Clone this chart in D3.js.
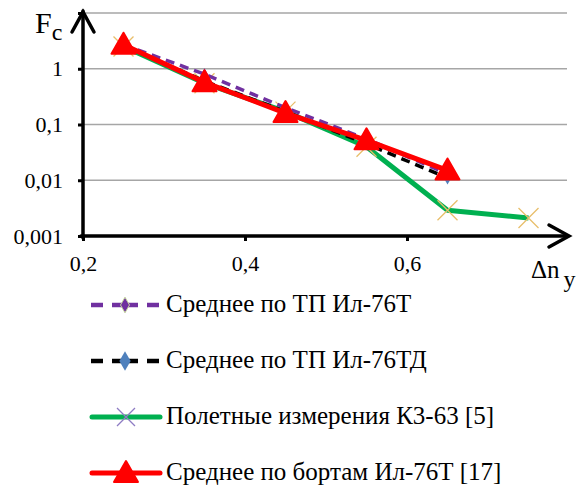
<!DOCTYPE html>
<html>
<head>
<meta charset="utf-8">
<script src="https://cdn.jsdelivr.net/npm/d3@7"></script>
</head>
<body style="margin:0; background:#fff">
<div id="chart"></div>
<script>
// data
var dnY = [0.25, 0.35, 0.45, 0.55, 0.65];
var dnYFlight = [0.25, 0.35, 0.45, 0.55, 0.65, 0.75];
var tp76T = [2.7, 0.8, 0.2, 0.055, 0.013];
var tp76TD = [2.6, 0.6, 0.17, 0.045, 0.011];
var flightK363 = [2.5, 0.55, 0.17, 0.04, 0.0029, 0.0021];
var boards76T = [2.7, 0.57, 0.16, 0.052, 0.015];
var yTicks = [0.001, 0.01, 0.1, 1, 10];
var yLabels = ["0,001", "0,01", "0,1", "1", ""];
var xTicks = [0.2, 0.4, 0.6];
var legendNames = [
    "Среднее по ТП Ил-76Т",
    "Среднее по ТП Ил-76ТД",
    "Полетные измерения К3-63 [5]",
    "Среднее по бортам Ил-76Т [17]"
];

var width = 581, height = 486;
var serif = "'Liberation Serif', serif";

var svg = d3.select("#chart")
    .append("svg")
    .attr("width", width)
    .attr("height", height);

var x = d3.scaleLinear().domain([0.2, 0.8]).range([83, 569]);
var y = d3.scaleLog().domain([0.001, 10]).range([236, 13]);

// gridlines
svg.append("g")
    .selectAll("line")
    .data(yTicks.slice(1))
    .enter().append("line")
    .attr("x1", x(0.2))
    .attr("x2", x(0.8) - 2)
    .attr("y1", function(d) { return y(d); })
    .attr("y2", function(d) { return y(d); })
    .attr("stroke", "#a6a6a6")
    .attr("stroke-width", 1.3);

// y axis
var yAxis = d3.axisLeft(y)
    .tickValues(yTicks)
    .tickFormat(function(d, i) { return yLabels[i]; })
    .tickSize(5)
    .tickPadding(15);

var gy = svg.append("g")
    .attr("transform", "translate(" + x(0.2) + ",0)")
    .call(yAxis);
gy.select(".domain").remove();
gy.selectAll(".tick line").attr("stroke", "#000").attr("stroke-width", 3);
gy.selectAll(".tick text")
    .style("font-family", serif)
    .style("font-size", "22px")
    .attr("fill", "#000");

// x axis
var xAxis = d3.axisBottom(x)
    .tickValues(xTicks)
    .tickFormat(function(d) { return d3.format(".1f")(d).replace(".", ","); })
    .tickSize(5)
    .tickPadding(14);

var gx = svg.append("g")
    .attr("transform", "translate(0," + y(0.001) + ")")
    .call(xAxis);
gx.select(".domain").remove();
gx.selectAll(".tick line").attr("stroke", "#000").attr("stroke-width", 3);
gx.selectAll(".tick text")
    .style("font-family", serif)
    .style("font-size", "22px")
    .attr("fill", "#000");

// axis lines with open arrowheads
var axes = svg.append("g")
    .attr("fill", "none")
    .attr("stroke", "#000")
    .attr("stroke-width", 3.5)
    .attr("stroke-linecap", "round")
    .attr("stroke-linejoin", "miter");

axes.append("line")
    .attr("x1", x(0.2)).attr("x2", x(0.2))
    .attr("y1", y(0.001) + 2).attr("y2", y(10) - 2);
axes.append("line")
    .attr("x1", x(0.2) - 2).attr("x2", x(0.8) - 1)
    .attr("y1", y(0.001)).attr("y2", y(0.001));
axes.append("path")
    .attr("d", d3.line()([[x(0.2) - 11, y(10) + 19], [x(0.2), y(10) - 1], [x(0.2) + 11, y(10) + 19]]));
axes.append("path")
    .attr("d", d3.line()([[x(0.8) - 20, y(0.001) - 11], [x(0.8), y(0.001)], [x(0.8) - 20, y(0.001) + 11]]));

// axis titles
var fc = svg.append("text")
    .attr("x", 35)
    .attr("y", 33)
    .style("font-family", serif)
    .style("font-size", "30px");
fc.append("tspan").text("F");
fc.append("tspan").attr("dy", 7).style("font-size", "24px").text("c");

var dn = svg.append("text")
    .attr("x", 531)
    .attr("y", 278)
    .style("font-family", serif)
    .style("font-size", "25px");
dn.append("tspan").text("Δn");
dn.append("tspan").attr("dx", 4).attr("dy", 9).style("font-size", "24px").text("y");

// series
var line = d3.line()
    .x(function(d) { return x(d[0]); })
    .y(function(d) { return y(d[1]); });

var xMark = function(g, size, color) {
    g.append("path")
        .attr("d", "M" + (-size) + "," + (-size) + "L" + size + "," + size +
                   "M" + (-size) + "," + size + "L" + size + "," + (-size))
        .attr("stroke", color)
        .attr("stroke-width", 1.3)
        .attr("fill", "none");
};

var triangle = "M0,-12L12,9L-12,9Z";

var plot = svg.append("g");

// green: flight measurements
var greenPts = d3.zip(dnYFlight, flightK363);
plot.append("path")
    .attr("d", line(greenPts))
    .attr("fill", "none")
    .attr("stroke", "#00b050")
    .attr("stroke-width", 5)
    .attr("stroke-linejoin", "round");
greenPts.forEach(function(p) {
    var g = plot.append("g").attr("transform", "translate(" + x(p[0]) + "," + y(p[1]) + ")");
    xMark(g, 10, "#e8be6a");
});

// purple dashed
var purplePts = d3.zip(dnY, tp76T);
plot.append("path")
    .attr("d", line(purplePts))
    .attr("fill", "none")
    .attr("stroke", "#7030a0")
    .attr("stroke-width", 3.5)
    .attr("stroke-dasharray", "9,6");
plot.selectAll(".pd")
    .data(purplePts)
    .enter().append("path")
    .attr("transform", function(d) { return "translate(" + x(d[0]) + "," + y(d[1]) + ")"; })
    .attr("d", d3.symbol(d3.symbolDiamond, 40)())
    .attr("fill", "#7030a0");

// black dashed
var blackPts = d3.zip(dnY, tp76TD);
plot.append("path")
    .attr("d", line(blackPts))
    .attr("fill", "none")
    .attr("stroke", "#000")
    .attr("stroke-width", 3.5)
    .attr("stroke-dasharray", "9,6");
plot.selectAll(".bd")
    .data(blackPts)
    .enter().append("path")
    .attr("transform", function(d) { return "translate(" + x(d[0]) + "," + y(d[1]) + ")"; })
    .attr("d", d3.symbol(d3.symbolDiamond, 50)())
    .attr("fill", "#4f81bd");

// red: boards average
var redPts = d3.zip(dnY, boards76T);
plot.append("path")
    .attr("d", line(redPts))
    .attr("fill", "none")
    .attr("stroke", "#ff0000")
    .attr("stroke-width", 5)
    .attr("stroke-linejoin", "round");
plot.selectAll(".rt")
    .data(redPts)
    .enter().append("path")
    .attr("transform", function(d) { return "translate(" + x(d[0]) + "," + y(d[1]) + ")"; })
    .attr("d", triangle)
    .attr("fill", "#ff0000")
    .attr("stroke", "#ff0000")
    .attr("stroke-width", 2)
    .attr("stroke-linejoin", "round");

// legend
var legendY = d3.scalePoint().domain(d3.range(4)).range([305, 473]);
var legend = svg.append("g");

legendNames.forEach(function(name, i) {
    var g = legend.append("g").attr("transform", "translate(0," + legendY(i) + ")");
    if (i < 2) {
        var col = i === 0 ? "#7030a0" : "#000";
        g.append("line").attr("x1", 91).attr("x2", 103).attr("y1", 0).attr("y2", 0)
            .attr("stroke", col).attr("stroke-width", 4.5);
        g.append("line").attr("x1", 112).attr("x2", 138).attr("y1", 0).attr("y2", 0)
            .attr("stroke", col).attr("stroke-width", 4.5);
        g.append("line").attr("x1", 147).attr("x2", 159).attr("y1", 0).attr("y2", 0)
            .attr("stroke", col).attr("stroke-width", 4.5);
        g.append("path")
            .attr("transform", "translate(125,0)")
            .attr("d", d3.symbol(d3.symbolDiamond, i === 0 ? 70 : 110)())
            .attr("fill", i === 0 ? "#7030a0" : "#4f81bd")
            .attr("stroke", i === 0 ? "#c4d79b" : "none")
            .attr("stroke-width", 1);
    } else if (i === 2) {
        g.append("line").attr("x1", 92).attr("x2", 160).attr("y1", 0).attr("y2", 0)
            .attr("stroke", "#00b050").attr("stroke-width", 5).attr("stroke-linecap", "round");
        var m = g.append("g").attr("transform", "translate(126,0)");
        xMark(m, 9, "#8e7cc3");
    } else {
        g.append("line").attr("x1", 92).attr("x2", 160).attr("y1", 0).attr("y2", 0)
            .attr("stroke", "#ff0000").attr("stroke-width", 5).attr("stroke-linecap", "round");
        g.append("path")
            .attr("transform", "translate(126,0)")
            .attr("d", triangle)
            .attr("fill", "#ff0000")
            .attr("stroke", "#ff0000")
            .attr("stroke-width", 2)
            .attr("stroke-linejoin", "round");
    }
    g.append("text")
        .attr("x", 166)
        .attr("y", 7)
        .style("font-family", serif)
        .style("font-size", "25px")
        .attr("fill", "#000")
        .text(name);
});
</script>
</body>
</html>
